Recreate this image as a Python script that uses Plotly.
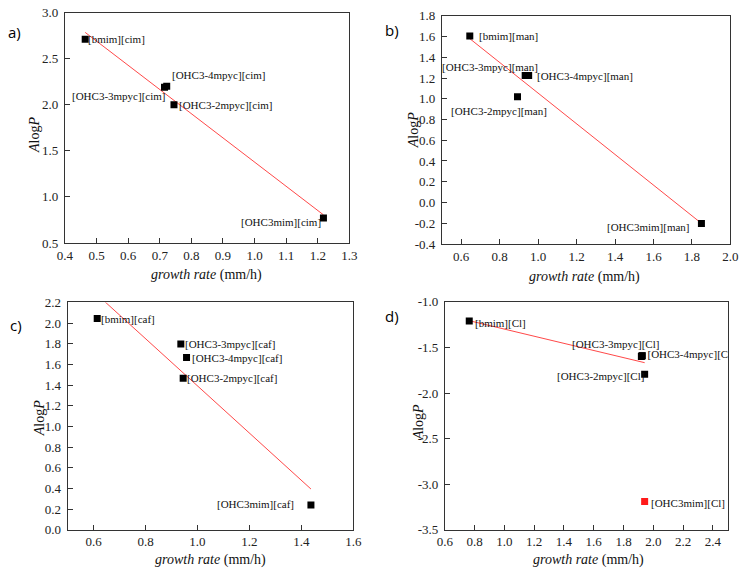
import numpy as np
import plotly.graph_objects as go

W, H = 747, 577

# ---------------- data ----------------
a_names = ["[bmim][cim]", "[OHC3-4mpyc][cim]", "[OHC3-3mpyc][cim]", "[OHC3-2mpyc][cim]", "[OHC3mim][cim]"]
a_x = [0.464, 0.722, 0.715, 0.745, 1.218]
a_y = [2.71, 2.20, 2.19, 2.00, 0.77]

b_names = ["[bmim][man]", "[OHC3-3mpyc][man]", "[OHC3-4mpyc][man]", "[OHC3-2mpyc][man]", "[OHC3mim][man]"]
b_x = [0.645, 0.933, 0.951, 0.893, 1.849]
b_y = [1.606, 1.224, 1.224, 1.02, -0.203]

c_names = ["[bmim][caf]", "[OHC3-3mpyc][caf]", "[OHC3-4mpyc][caf]", "[OHC3-2mpyc][caf]", "[OHC3mim][caf]"]
c_x = [0.614, 0.936, 0.958, 0.945, 1.437]
c_y = [2.045, 1.798, 1.666, 1.465, 0.24]

d_names = ["[bmim][Cl]", "[OHC3-3mpyc][Cl]", "[OHC3-4mpyc][Cl]", "[OHC3-2mpyc][Cl]", "[OHC3mim][Cl]"]
d_x = [0.764, 1.92, 1.925, 1.942, 1.942]
d_y = [-1.209, -1.60, -1.591, -1.794, -3.19]
d_outlier = [False, False, False, False, True]

a_xticks = [0.4, 0.5, 0.6, 0.7, 0.8, 0.9, 1.0, 1.1, 1.2, 1.3]
a_yticks = [0.5, 1.0, 1.5, 2.0, 2.5, 3.0]
b_xticks = [0.6, 0.8, 1.0, 1.2, 1.4, 1.6, 1.8, 2.0]
b_yticks = [-0.4, -0.2, 0.0, 0.2, 0.4, 0.6, 0.8, 1.0, 1.2, 1.4, 1.6, 1.8]
c_xticks = [0.6, 0.8, 1.0, 1.2, 1.4, 1.6]
c_yticks = [0.0, 0.2, 0.4, 0.6, 0.8, 1.0, 1.2, 1.4, 1.6, 1.8, 2.0, 2.2]
d_xticks = [0.6, 0.8, 1.0, 1.2, 1.4, 1.6, 1.8, 2.0, 2.2, 2.4]
d_yticks = [-3.5, -3.0, -2.5, -2.0, -1.5, -1.0]

# ---------------- layout / style ----------------
SERIF = "Liberation Serif"
SANS = "Open Sans"
panels = [
    dict(key="a", names=a_names, x=a_x, y=a_y, out=[False] * 5,
         xr=[0.4, 1.3], yr=[0.5, 3.0], xt=a_xticks, yt=a_yticks,
         box=(58.3, 349.3, 5.7, 242.3),
         labels=[("left", 3, 0), ("left", 5, 11), ("right", 0, -9), ("left", 5, 0), ("right", -2, -4)],
         clipped=None,
         tag=(7, 26), ytit=(27, 131), xtit=(203, 275)),
    dict(key="b", names=b_names, x=b_x, y=b_y, out=[False] * 5,
         xr=[0.5, 2.0], yr=[-0.4, 1.8], xt=b_xticks, yt=b_yticks,
         box=(444, 739.3, 9, 243.3),
         labels=[("left", 9, 0), ("center", -35, 9), ("left", 8, 0), ("center", -19, -14), ("right", -12, -3)],
         clipped=None,
         tag=(393, 24), ytit=(415, 127), xtit=(590, 277)),
    dict(key="c", names=c_names, x=c_x, y=c_y, out=[False] * 5,
         xr=[0.5, 1.6], yr=[0.0, 2.2], xt=c_xticks, yt=c_yticks,
         box=(61, 353.3, 303.3, 536.7),
         labels=[("left", 4, -1), ("left", 4, 0), ("left", 5, 0), ("left", 4, 0), ("right", -17, 1)],
         clipped=None,
         tag=(8, 327), ytit=(32, 422), xtit=(207, 568)),
    dict(key="d", names=d_names, x=d_x, y=d_y, out=d_outlier,
         xr=[0.6, 2.5], yr=[-3.5, -1.0], xt=d_xticks, yt=d_yticks,
         box=(447, 736.5, 302.7, 536.7),
         labels=[("left", 6, -2), ("center", -26, 13), None, ("right", -1, -2), ("left", 6, -2)],
         clipped=2,
         tag=(393, 317), ytit=(420, 426), xtit=(594, 568)),
]

fig = go.Figure()
annotations = []
layout_axes = {}

for i, p in enumerate(panels):
    n = "" if i == 0 else str(i + 1)
    xa, ya = "x" + n, "y" + n
    l, r, t, b = p["box"]
    layout_axes["xaxis" + n] = dict(
        domain=[l / W, r / W], range=p["xr"], anchor=ya,
        tickvals=p["xt"], ticktext=[f"{v:.1f}" for v in p["xt"]],
        ticks="inside", ticklen=5, tickwidth=1, tickcolor="#333",
        showline=True, linecolor="#333", linewidth=1, mirror=True,
        showgrid=False, zeroline=False, ticklabeloverflow="allow",
        tickfont=dict(family=SERIF, size=13, color="#222"),
    )
    layout_axes["yaxis" + n] = dict(
        domain=[1 - b / H, 1 - t / H], range=p["yr"], anchor=xa,
        tickvals=p["yt"], ticktext=[f"{v:.1f}" for v in p["yt"]],
        ticks="inside", ticklen=5, tickwidth=1, tickcolor="#333",
        showline=True, linecolor="#333", linewidth=1, mirror=True,
        showgrid=False, zeroline=False, ticklabeloverflow="allow",
        tickfont=dict(family=SERIF, size=13, color="#222"),
        ticklabelstandoff=3,
    )

    xs = np.array(p["x"])
    ys = np.array(p["y"])
    keep = ~np.array(p["out"])
    k, c0 = np.polyfit(xs[keep], ys[keep], 1)
    lx = np.array([xs[keep].min(), xs[keep].max()])
    fig.add_trace(go.Scatter(x=lx, y=k * lx + c0, mode="lines",
                             line=dict(color="rgba(255,40,40,0.85)", width=1),
                             xaxis=xa, yaxis=ya, showlegend=False, hoverinfo="skip"))
    cols = ["#ff1a1a" if o else "#000000" for o in p["out"]]
    fig.add_trace(go.Scatter(x=xs, y=ys, mode="markers",
                             marker=dict(symbol="square", size=7, color=cols, line=dict(width=0)),
                             xaxis=xa, yaxis=ya, showlegend=False))

    for j, name in enumerate(p["names"]):
        spec = p["labels"][j]
        if spec is None:
            continue
        anc, dx, dy = spec
        annotations.append(dict(
            x=p["x"][j], y=p["y"][j], xref=xa, yref=ya, text=name, showarrow=False,
            xanchor=anc, yanchor="middle", xshift=dx, yshift=dy,
            borderpad=0, borderwidth=0,
            font=dict(family=SERIF, size=11, color="#111"),
        ))
    if p["clipped"] is not None:
        j = p["clipped"]
        fig.add_trace(go.Scatter(x=[p["x"][j]], y=[p["y"][j]], mode="markers+text",
                                 text=[p["names"][j]], textposition="middle right",
                                 marker=dict(symbol="square", size=7, color="#000"),
                                 textfont=dict(family=SERIF, size=11, color="#111"),
                                 cliponaxis=True, xaxis=xa, yaxis=ya, showlegend=False))

    tx, ty = p["tag"]
    annotations.append(dict(x=tx / W, y=1 - ty / H, xref="paper", yref="paper",
                            text=p["key"] + ")", showarrow=False, xanchor="center", yanchor="middle",
                            font=dict(family=SANS, size=15, color="#000")))
    yx, yy = p["ytit"]
    annotations.append(dict(x=yx / W, y=1 - yy / H, xref="paper", yref="paper",
                            text="<i>A</i>log<i>P</i>", textangle=-90, showarrow=False,
                            xanchor="center", yanchor="middle",
                            font=dict(family=SERIF, size=14, color="#111")))
    xx, xy = p["xtit"]
    annotations.append(dict(x=xx / W, y=1 - xy / H, xref="paper", yref="paper",
                            text="<i>growth rate</i> (mm/h)", showarrow=False,
                            xanchor="center", yanchor="middle",
                            font=dict(family=SERIF, size=14, color="#111")))

fig.update_layout(
    width=W, height=H, margin=dict(l=0, r=0, t=0, b=0),
    paper_bgcolor="white", plot_bgcolor="white",
    annotations=annotations, showlegend=False, **layout_axes,
)

fig.write_html("out.html", config={"displayModeBar": False},
               post_script="document.body.style.margin='0';document.body.style.overflow='hidden';")
